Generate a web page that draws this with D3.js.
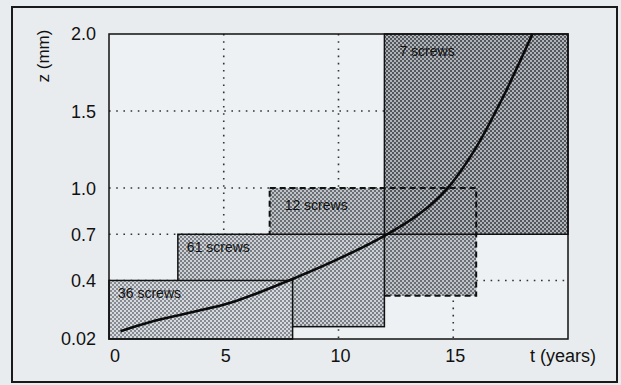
<!DOCTYPE html>
<html>
<head>
<meta charset="utf-8">
<script src="https://cdn.jsdelivr.net/npm/d3@7"></script>
<style>
  body { margin: 0; background: #e9ecef; }
  svg { display: block; font-family: "Liberation Sans", Arial, sans-serif; }
</style>
</head>
<body>
<svg id="chart"></svg>
<script>
// data
var tTicks = [0, 5, 10, 15];
var zTicks = [0.02, 0.4, 0.7, 1.0, 1.5, 2.0];
var zTickLabels = ["0.02", "0.4", "0.7", "1.0", "1.5", "2.0"];

var groups = ["36 screws", "61 screws", "12 screws", "7 screws"];
var tStart = [0, 3, 7, 12];
var tEnd = [8, 12, 16, 20];
var zLow = [0.02, 0.1, 0.3, 0.7];
var zHigh = [0.4, 0.7, 1.0, 2.0];

var curveT = [0.5, 1.8, 3.5, 5.4, 8.0, 10.0, 12.0, 13.5, 14.7, 15.9, 17.1, 18.45];
var curveZ = [0.07, 0.13, 0.19, 0.26, 0.41, 0.54, 0.69, 0.83, 0.99, 1.24, 1.57, 2.0];

var width = 621, height = 385;
var margin = {top: 34, right: 53, bottom: 46, left: 109};

var svg = d3.select("#chart")
  .attr("width", width)
  .attr("height", height);

var x = d3.scaleLinear().domain([0, 20]).range([margin.left, width - margin.right]);
var y = d3.scaleLinear().domain([0.02, 2.0]).range([height - margin.bottom, margin.top]);

// stipple patterns (light tile + dark checker dots)
var fills = [
  {light: "#d6dade", dark: "#868b91"},
  {light: "#cdd1d5", dark: "#7a7f85"},
  {light: "#c0c4c8", dark: "#6a6f75"},
  {light: "#b0b4b8", dark: "#52575e"}
];
var defs = svg.append("defs");
fills.forEach(function (f, i) {
  var p = defs.append("pattern")
    .attr("id", "stip" + i)
    .attr("patternUnits", "userSpaceOnUse")
    .attr("width", 4).attr("height", 4);
  p.append("rect").attr("width", 4).attr("height", 4).attr("fill", f.light);
  p.append("rect").attr("width", 2).attr("height", 2).attr("fill", f.dark);
  p.append("rect").attr("x", 2).attr("y", 2).attr("width", 2).attr("height", 2).attr("fill", f.dark);
});

// outer frame
svg.append("rect")
  .attr("x", 12).attr("y", 7)
  .attr("width", 605).attr("height", 375)
  .attr("fill", "none")
  .attr("stroke", "#1a1a1a")
  .attr("stroke-width", 2);

// plot background
svg.append("rect")
  .attr("x", x(0)).attr("y", y(2.0))
  .attr("width", x(20) - x(0)).attr("height", y(0.02) - y(2.0))
  .attr("fill", "#eef1f3");

// dotted grid (covered by the boxes later)
var grid = svg.append("g")
  .attr("stroke", "#333")
  .attr("stroke-width", 1.6)
  .attr("stroke-dasharray", "1.6,5.6");
grid.selectAll("line.h")
  .data(zTicks.filter(function (d) { return d > 0.02 && d < 2.0; }))
  .enter().append("line")
  .attr("x1", x(0)).attr("x2", x(20))
  .attr("y1", function (d) { return y(d); })
  .attr("y2", function (d) { return y(d); });
grid.selectAll("line.v")
  .data(tTicks.filter(function (d) { return d > 0; }))
  .enter().append("line")
  .attr("x1", function (d) { return x(d); })
  .attr("x2", function (d) { return x(d); })
  .attr("y1", y(2.0)).attr("y2", y(0.02));

function box(i) {
  return svg.append("rect")
    .attr("x", x(tStart[i]))
    .attr("y", y(zHigh[i]))
    .attr("width", x(tEnd[i]) - x(tStart[i]))
    .attr("height", y(zLow[i]) - y(zHigh[i]));
}

// drawing order as in the figure
box(2).attr("fill", "url(#stip2)");
box(3).attr("fill", "url(#stip3)").attr("stroke", "#111").attr("stroke-width", 1.5);
box(2).attr("fill", "none").attr("stroke", "#111").attr("stroke-width", 2)
  .attr("stroke-dasharray", "6,4");
box(1).attr("fill", "url(#stip1)").attr("stroke", "#111").attr("stroke-width", 1.5);
box(0).attr("fill", "url(#stip0)").attr("stroke", "#111").attr("stroke-width", 1.5);

// box labels
groups.forEach(function (g, i) {
  var dx = i < 2 ? 9 : 15, dy = i < 2 ? 18 : 22;
  svg.append("text")
    .attr("x", x(tStart[i]) + dx)
    .attr("y", y(zHigh[i]) + dy)
    .attr("font-size", 14)
    .attr("fill", "#111")
    .text(g);
});

// plot frame
svg.append("rect")
  .attr("x", x(0)).attr("y", y(2.0))
  .attr("width", x(20) - x(0)).attr("height", y(0.02) - y(2.0))
  .attr("fill", "none")
  .attr("stroke", "#111")
  .attr("stroke-width", 1.5);

// curve
var pts = curveT.map(function (t, i) { return [t, curveZ[i]]; });
var line = d3.line()
  .x(function (d) { return x(d[0]); })
  .y(function (d) { return y(d[1]); })
  .curve(d3.curveCatmullRom.alpha(0.5));
svg.append("path")
  .datum(pts)
  .attr("d", line)
  .attr("fill", "none")
  .attr("stroke", "#0a0a0a")
  .attr("stroke-width", 2.6);

// axis labels
svg.selectAll("text.ytick")
  .data(zTicks)
  .enter().append("text")
  .attr("class", "ytick")
  .attr("x", 96)
  .attr("y", function (d) { return y(d); })
  .attr("dy", "0.36em")
  .attr("text-anchor", "end")
  .attr("font-size", 18)
  .attr("fill", "#111")
  .text(function (d, i) { return zTickLabels[i]; });

svg.selectAll("text.xtick")
  .data(tTicks)
  .enter().append("text")
  .attr("class", "xtick")
  .attr("x", function (d) { return x(d) + (d === 0 ? 6 : 2); })
  .attr("y", 362)
  .attr("text-anchor", "middle")
  .attr("font-size", 18)
  .attr("fill", "#111")
  .text(function (d) { return d; });

svg.append("text")
  .attr("x", 530).attr("y", 362)
  .attr("font-size", 18)
  .attr("fill", "#111")
  .text("t (years)");

svg.append("text")
  .attr("transform", "translate(49,56) rotate(-90)")
  .attr("text-anchor", "middle")
  .attr("font-size", 17)
  .attr("fill", "#111")
  .text("z (mm)");
</script>
</body>
</html>
